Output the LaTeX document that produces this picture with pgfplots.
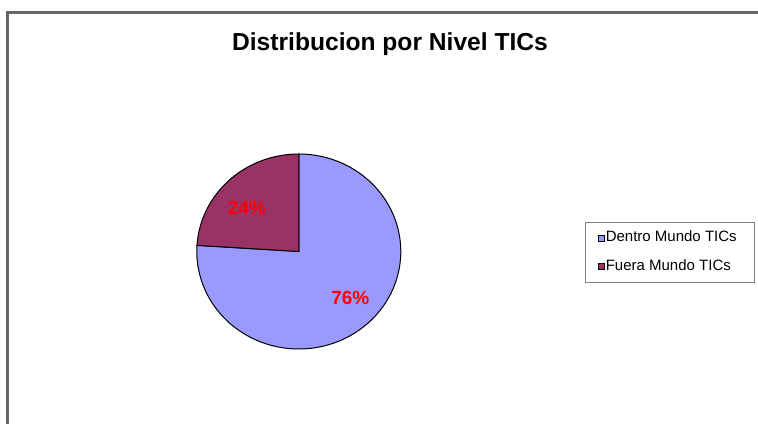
\documentclass[border=0pt]{standalone}
\usepackage{pgfplots}
\pgfplotsset{compat=1.18}
\usepackage{pgfplotstable}
\usepackage{fontspec}
\setmainfont{Liberation Sans}
\definecolor{dentro}{HTML}{9999FF}
\definecolor{fuera}{HTML}{993366}
\definecolor{framegray}{HTML}{666666}
\definecolor{lblred}{HTML}{FF0000}

\pgfplotstableread{
label value
Dentro 76
Fuera 24
}\piedata

\pgfplotstablegetelem{0}{value}\of\piedata \let\vA\pgfplotsretval
\pgfplotstablegetelem{1}{value}\of\piedata \let\vB\pgfplotsretval
\pgfmathsetmacro{\aStart}{90}
\pgfmathsetmacro{\aMid}{90-360*(\vA/(\vA+\vB))}
\pgfmathsetmacro{\aEnd}{-270}
\def\cx{298.8}
\def\cy{172.5}
\def\rx{102}
\def\ry{97.5}

\begin{document}
\begin{tikzpicture}
\useasboundingbox (0,0) rectangle (758bp,424bp);
\begin{axis}[
  at={(0,0)}, anchor=south west,
  scale only axis, width=758bp, height=424bp,
  xmin=0, xmax=758, ymin=0, ymax=424,
  hide axis, clip=false,
  legend style={
    at={(axis cs:585,202)}, anchor=north west,
    draw=gray, line width=0.8bp, fill=white,
    inner xsep=13bp, inner ysep=8.5bp,
    row sep=14bp,
    font=\fontsize{15bp}{17bp}\selectfont,
    nodes={inner xsep=0.6bp, inner ysep=0.5bp, text height=10.5bp, text depth=3bp},
  },
  legend cell align=left,
  legend image code/.code={\draw[#1,draw=black,line width=0.8bp] (1bp,-3bp) rectangle (7bp,3bp);},
]
\addplot[fill=dentro, draw=black, line width=1bp, domain=\aMid:\aStart, samples=120, variable=\t]
  ({\cx+\rx*cos(t)}, {\cy+\ry*sin(t)}) -- (axis cs:\cx,\cy) -- cycle;
\addlegendentry{Dentro Mundo TICs\rule{4bp}{0pt}}
\addplot[fill=fuera, draw=black, line width=1bp, domain=\aEnd:\aMid, samples=60, variable=\t]
  ({\cx+\rx*cos(t)}, {\cy+\ry*sin(t)}) -- (axis cs:\cx,\cy) -- cycle;
\addlegendentry{Fuera Mundo TICs}

\node[font=\fontsize{19bp}{22bp}\selectfont\bfseries, text=lblred] at (axis cs:246.8,216) {24\%};
\node[font=\fontsize{19bp}{22bp}\selectfont\bfseries, text=lblred] at (axis cs:350.3,126) {76\%};

\node[font=\fontsize{24.6bp}{28bp}\selectfont\bfseries, text=black] at (axis cs:390,380) {Distribucion por Nivel TICs};

\draw[framegray, line width=2.2bp] (axis cs:7.5,-5) -- (axis cs:7.5,411.5) -- (axis cs:770,411.5);
\end{axis}
\end{tikzpicture}
\end{document}
